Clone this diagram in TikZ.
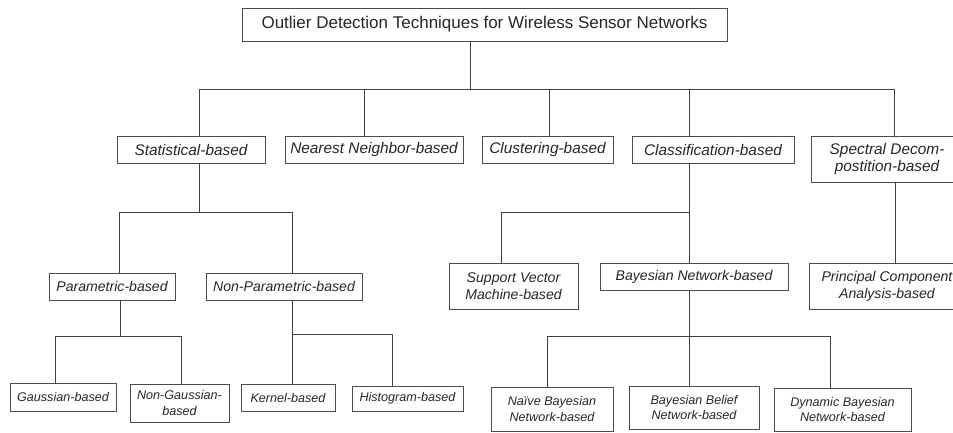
\documentclass[tikz,border=0pt]{standalone}
\usepackage{fontspec}
\setmainfont{Liberation Sans}
\usepackage{tikz}
\definecolor{edge}{rgb}{0.3, 0.3, 0.3}
\definecolor{ink}{rgb}{0.15, 0.15, 0.15}
\tikzstyle{every node}=[inner sep=0pt,align=center,text=ink]
\tikzstyle{box}=[draw=edge,line width=0.9pt]
\tikzstyle{lvla}=[box,font=\fontsize{15.4}{17}\selectfont\itshape,minimum height=27pt]
\tikzstyle{lvlb}=[box,font=\fontsize{14.1}{16.7}\selectfont\itshape,minimum height=27pt]
\tikzstyle{lvlc}=[box,font=\fontsize{12.6}{15.3}\selectfont\itshape,minimum height=27pt]
\tikzstyle{link}=[black!75,line width=1pt]
\newcommand{\drop}[2]{
  \draw[link] (#1) -- (#1 |- #2.north);
}

\begin{document}
\begin{tikzpicture}[x=1pt,y=-1pt]
\useasboundingbox (0,0) rectangle (953,432);

  \node[box,font=\fontsize{17}{20}\selectfont,minimum width=485pt,minimum height=33pt] (root) at (484.5,24.5) {Outlier Detection Techniques for Wireless Sensor Networks};

  % first level
  \node[lvla,minimum width=148pt] (stat) at (191,149.5) {Statistical-based};
  \node[lvla,minimum width=178pt] (near) at (374,149.5) {Nearest Neighbor-based};
  \node[lvla,minimum width=131pt] (clus) at (547.5,149.5) {Clustering-based};
  \node[lvla,minimum width=162pt] (clas) at (713,149.5) {Classification-based};
  \node[lvla,minimum width=152pt,minimum height=46pt] (spec) at (887,159) {Spectral Decom-\\postition-based};

  % second level
  \node[lvlb,minimum width=126pt] (par) at (112,286.5) {Parametric-based};
  \node[lvlb,minimum width=156pt] (npar) at (284,286.5) {Non-Parametric-based};
  \node[lvlb,minimum width=129pt,minimum height=46pt] (svm) at (513.5,286) {Support Vector\\Machine-based};
  \node[lvlb,minimum width=188pt] (bay) at (694,276.5) {Bayesian Network-based};
  \node[lvlb,minimum width=156pt,minimum height=46pt] (pca) at (887,286) {Principal Component\\Analysis-based};

  % third level
  \node[lvlc,minimum width=106pt,minimum height=28pt] (gau) at (63,397) {Gaussian-based};
  \node[lvlc,minimum width=99pt,minimum height=38pt] (ngau) at (179.5,403) {Non-Gaussian-\\based};
  \node[lvlc,minimum width=94pt] (kern) at (288,397.5) {Kernel-based};
  \node[lvlc,minimum width=111pt,minimum height=25pt] (hist) at (407.5,398.5) {Histogram-based};
  \node[lvlc,minimum width=122pt,minimum height=44pt] (naive) at (552,409) {Na\"ive Bayesian\\Network-based};
  \node[lvlc,minimum width=130pt,minimum height=43pt] (belief) at (694,407.5) {Bayesian Belief\\Network-based};
  \node[lvlc,minimum width=137pt,minimum height=43pt] (dyn) at (842.5,409.5) {Dynamic Bayesian\\Network-based};

  % root bus
  \coordinate (b0) at (470.7,89);
  \coordinate (b1) at (199,89);
  \coordinate (b2) at (364,89);
  \coordinate (b3) at (549,89);
  \coordinate (b4) at (689,89);
  \coordinate (b5) at (894,89);
  \draw[link] (root.south -| b0) -- (b0);
  \draw[link] (b1) -- (b5);
  \drop{b1}{stat}
  \drop{b2}{near}
  \drop{b3}{clus}
  \drop{b4}{clas}
  \drop{b5}{spec}

  % statistical
  \coordinate (s0) at (199,212);
  \coordinate (s1) at (119,212);
  \coordinate (s2) at (292,212);
  \draw[link] (stat.south -| s0) -- (s0);
  \draw[link] (s1) -- (s2);
  \drop{s1}{par}
  \drop{s2}{npar}

  \coordinate (p0) at (120,336);
  \coordinate (p1) at (55,336);
  \coordinate (p2) at (181,336);
  \draw[link] (par.south -| p0) -- (p0);
  \draw[link] (p1) -- (p2);
  \drop{p1}{gau}
  \drop{p2}{ngau}

  \coordinate (n0) at (292,334);
  \coordinate (n1) at (392,334);
  \draw[link] (npar.south -| n0) -- (n0) -- (n1);
  \drop{n0}{kern}
  \drop{n1}{hist}

  % classification
  \coordinate (c0) at (689,212);
  \coordinate (c1) at (501,212);
  \draw[link] (clas.south -| c0) -- (c0) -- (c1);
  \drop{c0}{bay}
  \drop{c1}{svm}

  \coordinate (e0) at (895,182);
  \draw[link] (spec.south -| e0) -- (pca.north -| e0);

  \coordinate (y0) at (689,336);
  \coordinate (y1) at (547,336);
  \coordinate (y2) at (830,336);
  \draw[link] (bay.south -| y0) -- (y0);
  \draw[link] (y1) -- (y2);
  \drop{y1}{naive}
  \drop{y0}{belief}
  \drop{y2}{dyn}

\end{tikzpicture}
\end{document}
